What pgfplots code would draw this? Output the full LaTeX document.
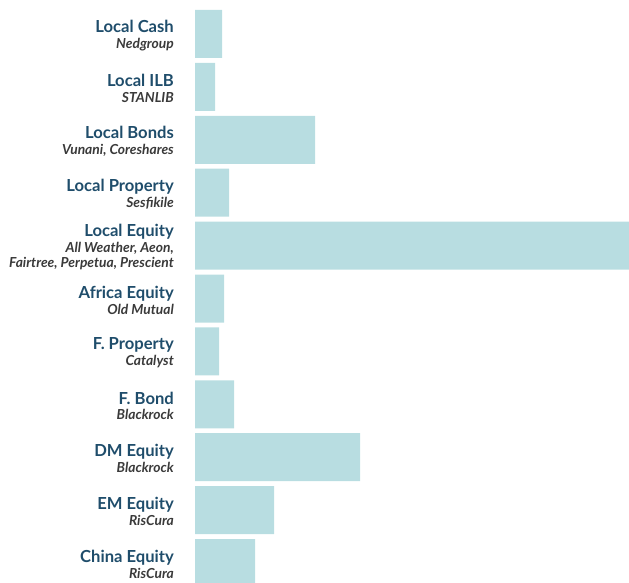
\documentclass[border=0pt]{standalone}
\usepackage{pgfplots}
\pgfplotsset{compat=1.18}
\usepackage{fontspec}
\setmainfont{Lato}
\definecolor{barc}{HTML}{B8DDE1}
\definecolor{titc}{HTML}{1F4D6B}
\definecolor{subc}{HTML}{3A3A3A}
\newcommand{\titf}{\fontsize{16.6}{15.8}\selectfont\bfseries\color{titc}}
\newcommand{\subf}{\fontsize{13.8}{15.8}\selectfont\bfseries\itshape\color{subc}}
\begin{document}
\begin{tikzpicture}
\useasboundingbox (0,0) rectangle (629pt,583pt);
\clip (0,0) rectangle (629pt,583pt);
\begin{axis}[
  at={(195pt,575.45pt)}, anchor=north west,
  scale only axis, width=434pt, height=581.9pt,
  xmin=0, xmax=434, ymin=-0.5, ymax=10.5,
  y dir=reverse, xbar, bar width=48pt,
  hide x axis,
  axis line style={draw=none},
  major tick length=0pt,
  ytick={0,...,10},
  yticklabel style={align=right, anchor=east, inner sep=0pt, xshift=-21pt, yshift=-1.5pt,
    font=\fontsize{13.8}{15.8}\selectfont},
  yticklabels={
    {{\titf Local Cash}\\{\subf Nedgroup}},
    {{\titf Local ILB}\\{\subf STANLIB}},
    {{\titf Local Bonds}\\{\subf Vunani, Coreshares}},
    {{\titf Local Property}\\{\subf Sesfikile}},
    {{\titf Local Equity}\\{\subf All Weather, Aeon,}\\{\subf Fairtree, Perpetua, Prescient}},
    {{\titf Africa Equity}\\{\subf Old Mutual}},
    {{\titf F. Property}\\{\subf Catalyst}},
    {{\titf F. Bond}\\{\subf Blackrock}},
    {{\titf DM Equity}\\{\subf Blackrock}},
    {{\titf EM Equity}\\{\subf RisCura}},
    {{\titf China Equity}\\{\subf RisCura}}
  },
]
\addplot[draw=none, fill=barc] coordinates {
  (27,0) (20,1) (120,2) (34,3) (434,4) (29,5) (24,6) (39,7) (165,8) (79,9) (60,10)
};
\end{axis}
\end{tikzpicture}
\end{document}
